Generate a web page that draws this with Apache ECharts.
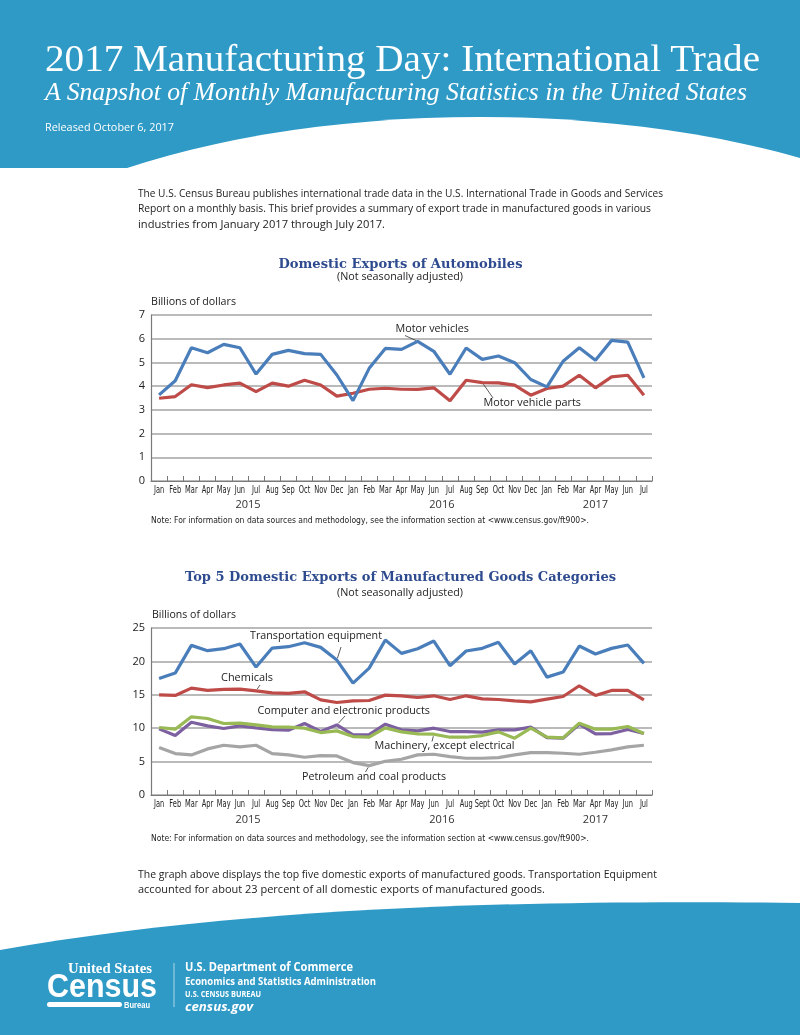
<!DOCTYPE html>
<html><head><meta charset="utf-8">
<script src="https://cdn.jsdelivr.net/npm/echarts@6/dist/echarts.min.js"></script>
<style>
html,body{margin:0;padding:0;width:800px;height:1035px;overflow:hidden;background:#fff;}
#bg{position:absolute;left:0;top:0;z-index:0}
#chart{position:absolute;left:0;top:0;width:800px;height:1035px;z-index:1}
.t{position:absolute;white-space:nowrap;transform-origin:0 50%;z-index:2;font-family:"Open Sans","Noto Sans",sans-serif;color:#222;}
.w{color:#fff}
</style></head><body>
<svg id="bg" width="800" height="1035">
  <rect x="0" y="0" width="800" height="168" fill="#2f9ac6"/>
  <ellipse cx="480" cy="345" rx="560" ry="228" fill="#fff"/>
  <path d="M0,950 C200,915 450,898 800,903 L800,1035 L0,1035 Z" fill="#2f9ac6"/>
  <rect x="47" y="1002" width="75" height="5" rx="2.5" fill="#fff"/>
  <line x1="174" y1="963" x2="174" y2="1007" stroke="rgba(255,255,255,0.6)" stroke-width="1"/>
</svg>

<div class="t w" data-w="715" style="left:45px;top:36.5px;line-height:42px;font-family:'Liberation Serif',serif;font-size:38px;">2017 Manufacturing Day: International Trade</div>
<div class="t w" data-w="702" style="left:45px;top:76.5px;line-height:30px;font-family:'Liberation Serif',serif;font-style:italic;font-size:26px;">A Snapshot of Monthly Manufacturing Statistics in the United States</div>
<div class="t w" data-w="129" style="left:45px;top:120px;line-height:14px;font-size:10px;">Released October 6, 2017</div>

<div class="t" data-w="525" style="left:138px;top:185.5px;line-height:15px;font-size:10.5px;">The U.S. Census Bureau publishes international trade data in the U.S. International Trade in Goods and Services</div>
<div class="t" data-w="513" style="left:138px;top:200.5px;line-height:15px;font-size:10.5px;">Report on a monthly basis. This brief provides a summary of export trade in manufactured goods in various</div>
<div class="t" data-w="247" style="left:138px;top:216.5px;line-height:15px;font-size:10.5px;">industries from January 2017 through July 2017.</div>

<div class="t" data-w="519" style="left:138px;top:866.5px;line-height:15px;font-size:10.5px;">The graph above displays the top five domestic exports of manufactured goods. Transportation Equipment</div>
<div class="t" data-w="407" style="left:138px;top:881.5px;line-height:15px;font-size:10.5px;">accounted for about 23 percent of all domestic exports of manufactured goods.</div>

<div class="t w" data-w="84" style="left:68px;top:960px;line-height:16px;font-family:'Liberation Serif',serif;font-weight:bold;font-size:15px;">United States</div>
<div class="t w" data-w="110" style="left:47px;top:966px;line-height:40px;font-family:'Liberation Sans',sans-serif;font-weight:bold;font-size:33px;">Census</div>
<div class="t w" data-w="26" style="left:124px;top:999px;line-height:12px;font-family:'Liberation Sans',sans-serif;font-weight:bold;font-size:9px;">Bureau</div>
<div class="t w" data-w="168" style="left:185px;top:959px;line-height:16px;font-weight:bold;font-size:12.5px;">U.S. Department of Commerce</div>
<div class="t w" data-w="191" style="left:185px;top:974px;line-height:14px;font-weight:bold;font-size:10.5px;">Economics and Statistics Administration</div>
<div class="t w" data-w="76" style="left:185px;top:988px;line-height:12px;font-weight:bold;font-size:8.5px;">U.S. CENSUS BUREAU</div>
<div class="t w" data-w="68" style="left:185px;top:999px;line-height:16px;font-weight:bold;font-style:italic;font-size:12px;">census.gov</div>

<div id="chart"></div>
<script>
// ---------- data ----------
const months1 = ['Jan','Feb','Mar','Apr','May','Jun','Jul','Aug','Sep','Oct','Nov','Dec',
                 'Jan','Feb','Mar','Apr','May','Jun','Jul','Aug','Sep','Oct','Nov','Dec',
                 'Jan','Feb','Mar','Apr','May','Jun','Jul'];
const months2 = ['Jan','Feb','Mar','Apr','May','Jun','Jul','Aug','Sep','Oct','Nov','Dec',
                 'Jan','Feb','Mar','Apr','May','Jun','Jul','Aug','Sept','Oct','Nov','Dec',
                 'Jan','Feb','Mar','Apr','May','Jun','Jul'];
const years = ['2015','2016','2017'];
const yearStart = [0,12,24];
const yearEnd = [11,23,30];

const motorVehicles = [3.63,4.23,5.62,5.41,5.76,5.62,4.51,5.34,5.51,5.37,5.34,4.47,
                       3.39,4.75,5.59,5.55,5.89,5.47,4.50,5.61,5.13,5.27,4.99,4.28,
                       3.97,5.05,5.62,5.09,5.93,5.86,4.35];
const motorVehicleParts = [3.49,3.56,4.06,3.94,4.05,4.13,3.77,4.13,4.00,4.25,4.05,3.58,
                           3.70,3.87,3.91,3.87,3.86,3.93,3.38,4.25,4.15,4.14,4.04,3.62,
                           3.90,4.00,4.46,3.93,4.39,4.46,3.62];

const transportation = [17.45,18.25,22.4,21.6,21.9,22.6,19.15,22.0,22.2,22.8,22.1,20.2,
                        16.75,19.0,23.2,21.2,21.9,23.05,19.35,21.55,21.95,22.85,19.6,21.6,
                        17.65,18.4,22.3,21.1,21.95,22.45,19.7];
const chemicals = [15.0,14.9,16.0,15.65,15.8,15.85,15.6,15.3,15.2,15.45,14.25,13.85,
                   14.1,14.15,14.95,14.85,14.6,14.85,14.3,14.85,14.4,14.3,14.1,13.95,
                   14.35,14.75,16.35,14.9,15.65,15.65,14.25];
const computer = [9.9,8.9,10.9,10.35,9.95,10.35,10.05,9.8,9.7,10.7,9.5,10.5,
                  9.0,9.05,10.6,9.75,9.6,10.0,9.5,9.5,9.4,9.75,9.75,10.15,
                  8.6,8.5,10.6,9.15,9.2,9.8,9.2];
const machinery = [10.1,9.85,11.7,11.45,10.7,10.75,10.5,10.2,10.15,10.0,9.35,9.6,
                   8.75,8.65,10.05,9.45,9.15,9.1,8.65,8.65,8.9,9.45,8.5,10.0,
                   8.65,8.55,10.75,9.85,9.85,10.25,9.2];
const petroleum = [7.1,6.2,6.0,6.9,7.45,7.2,7.45,6.2,6.0,5.65,5.9,5.85,
                   4.85,4.4,5.05,5.35,6.0,6.1,5.75,5.5,5.5,5.6,6.0,6.35,
                   6.35,6.25,6.1,6.4,6.75,7.2,7.45];

const yTicks1 = {min:0, max:7, interval:1};
const yTicks2 = {min:0, max:25, interval:5};

// ---------- fit html text ----------
document.querySelectorAll('[data-w]').forEach(el=>{
  const w = el.getBoundingClientRect().width;
  el.style.transform = 'scaleX(' + (parseFloat(el.dataset.w)/w) + ')';
});

// ---------- chart ----------
const ctx = document.createElement('canvas').getContext('2d');
function measure(text, font){ ctx.font = font; return ctx.measureText(text).width; }
function txt(text, x, y, font, fill, align, targetW, fixedScale){
  const s = targetW ? targetW / measure(text, font) : (fixedScale || 1);
  return {type:'text', x:x, y:y, scaleX:s, silent:true, z:100,
    style:{text:text, x:0, y:0, font:font, fill:fill||'#222',
      textAlign:align||'left', textVerticalAlign:'middle', align:align||'left', verticalAlign:'middle'}};
}
const bodyFont = '"Open Sans","Noto Sans",sans-serif';
const monthFont = '10px "DejaVu Sans Condensed","DejaVu Sans",sans-serif';
const colors = {blue:'#4a7ebb', red:'#be4b48', green:'#98b954', purple:'#7d60a0', gray:'#a5a5a5'};

function xAxisCfg(gi, data){
  return {type:'category', gridIndex:gi, data:data, boundaryGap:true,
    axisLine:{lineStyle:{color:'#7a7a7a', width:1.2}},
    axisTick:{show:true, inside:true, length:5, interval:0, lineStyle:{color:'#7a7a7a', width:1}},
    axisLabel:{show:false},
    splitLine:{show:false}};
}
function yAxisCfg(gi, t){
  return {type:'value', gridIndex:gi, min:t.min, max:t.max, interval:t.interval,
    axisLine:{show:true, lineStyle:{color:'#7a7a7a', width:1.2}},
    axisTick:{show:false},
    axisLabel:{fontFamily:bodyFont, fontSize:11, color:'#222', margin:6},
    splitLine:{show:true, lineStyle:{color:'#a3a3a3', width:1.6}}};
}
function lineSeries(name, data, color, xi){
  return {name:name, type:'line', data:data, xAxisIndex:xi, yAxisIndex:xi,
    showSymbol:false, symbol:'none', smooth:false, animation:false,
    lineStyle:{width:3.2, color:color}, itemStyle:{color:color}, emphasis:{disabled:true}};
}

const chart = echarts.init(document.getElementById('chart'), null, {renderer:'canvas'});
chart.setOption({
  animation:false,
  backgroundColor:'transparent',
  grid:[{left:151, top:315, width:501, height:166},
        {left:151, top:628, width:501, height:167}],
  xAxis:[xAxisCfg(0, months1), xAxisCfg(1, months2)],
  yAxis:[yAxisCfg(0, yTicks1), yAxisCfg(1, yTicks2)],
  series:[
    lineSeries('Motor vehicle parts', motorVehicleParts, colors.red, 0),
    lineSeries('Motor vehicles', motorVehicles, colors.blue, 0),
    lineSeries('Transportation equipment', transportation, colors.blue, 1),
    lineSeries('Chemicals', chemicals, colors.red, 1),
    lineSeries('Petroleum and coal products', petroleum, colors.gray, 1),
    lineSeries('Computer and electronic products', computer, colors.purple, 1),
    lineSeries('Machinery, except electrical', machinery, colors.green, 1)
  ]
});

// ---------- annotations ----------
function pt(ai, idx, val){ return chart.convertToPixel({xAxisIndex:ai, yAxisIndex:ai}, [idx, val]); }
function leader(from, ai, idx, val){
  const p = pt(ai, idx, val);
  const dx = p[0]-from[0], dy = p[1]-from[1], d = Math.sqrt(dx*dx+dy*dy);
  const k = Math.max(0, (d-2)/d);
  return {type:'line', silent:true, z:100,
    shape:{x1:from[0], y1:from[1], x2:from[0]+dx*k, y2:from[1]+dy*k},
    style:{stroke:'#333', lineWidth:0.8}};
}
const titleFont = 'bold 13px "DejaVu Serif",serif';
const titleColor = '#2e4b8f';
const subFont = '10.5px ' + bodyFont;
const noteFont = '8px "DejaVu Sans Condensed",sans-serif';
const labFont = '10.5px ' + bodyFont;
const yearFont = '11px ' + bodyFont;
const note = 'Note: For information on data sources and methodology, see the information section at <www.census.gov/ft900>.';

const g = [
  txt('Domestic Exports of Automobiles', 400.5, 265, titleFont, titleColor, 'center', 244),
  txt('(Not seasonally adjusted)', 400, 277.5, subFont, '#222', 'center', 126),
  txt('Billions of dollars', 151, 302, subFont, '#222', 'left', 85),
  txt(note, 151, 521, noteFont, '#222', 'left', 438),
  txt('Top 5 Domestic Exports of Manufactured Goods Categories', 400.5, 578, titleFont, titleColor, 'center', 431),
  txt('(Not seasonally adjusted)', 400, 593, subFont, '#222', 'center', 126),
  txt('Billions of dollars', 152, 615, subFont, '#222', 'left', 84),
  txt(note, 151, 839, noteFont, '#222', 'left', 438),

  txt('Motor vehicles', 395.5, 329.5, labFont, '#222', 'left', 73.5),
  txt('Motor vehicle parts', 483.5, 403.5, labFont, '#222', 'left', 97.5),
  leader([405, 335.5], 0, 16, motorVehicles[16]),
  leader([493, 398], 0, 20, motorVehicleParts[20]),

  txt('Transportation equipment', 250, 636, labFont, '#222', 'left', 132),
  txt('Chemicals', 221, 678.5, labFont, '#222', 'left', 52),
  txt('Computer and electronic products', 257.5, 711, labFont, '#222', 'left', 172.5),
  txt('Machinery, except electrical', 374.5, 746, labFont, '#222', 'left', 140),
  txt('Petroleum and coal products', 302, 777.5, labFont, '#222', 'left', 144),
  leader([341, 647], 1, 11, transportation[11]),
  leader([260, 685], 1, 6, chemicals[6]),
  leader([345, 716], 1, 11, computer[11]),
  leader([432, 741.5], 1, 17, machinery[17]),
  leader([365.5, 772], 1, 13, petroleum[13])
];
// month tick labels (narrow), placed at each category centre
for (let i=0;i<months1.length;i++){
  g.push(txt(months1[i], pt(0, i, 0)[0], 490.5, monthFont, '#222', 'center', null, 0.74));
  g.push(txt(months2[i], pt(1, i, 0)[0], 804.5, monthFont, '#222', 'center', null, 0.74));
}
for (let i=0;i<years.length;i++){
  const a = pt(0, yearStart[i], 0)[0], b = pt(0, yearEnd[i], 0)[0];
  g.push(txt(years[i], (a+b)/2, 504.5, yearFont, '#333', 'center'));
  const a2 = pt(1, yearStart[i], 0)[0], b2 = pt(1, yearEnd[i], 0)[0];
  g.push(txt(years[i], (a2+b2)/2, 820, yearFont, '#333', 'center'));
}
chart.setOption({graphic:{elements:g}});
</script>
</body></html>
